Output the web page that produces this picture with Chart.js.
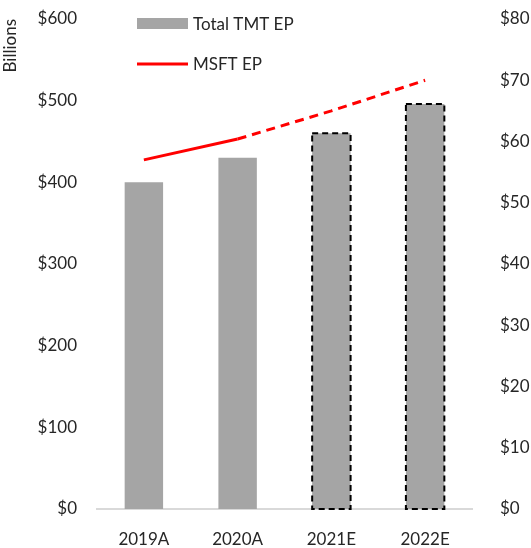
<!DOCTYPE html>
<html>
<head>
<meta charset="utf-8">
<script src="https://cdn.jsdelivr.net/npm/chart.js@4.4.1/dist/chart.umd.min.js"></script>
<style>
  html, body { margin: 0; padding: 0; background: #fff; }
  #wrap { width: 531px; height: 548px; }
</style>
</head>
<body>
<div id="wrap"><canvas id="epChart" width="531" height="548"></canvas></div>
<script>
// data
const categories = ['2019A', '2020A', '2021E', '2022E'];
const tmt_ep = [400, 430, 460, 496];      // left axis, $ billions
const msft_ep = [57, 60.4, 65, 70];       // right axis, $ billions
const is_estimate = [false, false, true, true];
const left_ticks = [0, 100, 200, 300, 400, 500, 600];
const right_ticks = [0, 10, 20, 30, 40, 50, 60, 70, 80];

const FONT = 'Lato, "Open Sans", sans-serif';
const TEXT = '#262626';

// dashed outline around the estimate bars (bar element has no borderDash)
const estimateOutline = {
    id: 'estimateOutline',
    afterDatasetsDraw(chart) {
        const meta = chart.getDatasetMeta(0);
        const ctx = chart.ctx;
        ctx.save();
        ctx.strokeStyle = '#000';
        ctx.lineWidth = 2;
        ctx.setLineDash([6, 4]);
        meta.data.forEach((bar, i) => {
            if (!is_estimate[i]) return;
            const p = bar.getProps(['x', 'y', 'base', 'width'], true);
            ctx.strokeRect(p.x - p.width / 2, p.y, p.width, p.base - p.y);
        });
        ctx.restore();
    }
};

// legend in the top left corner of the plot, like the original
const cornerLegend = {
    id: 'cornerLegend',
    afterDraw(chart) {
        const ctx = chart.ctx;
        const x0 = 137, x1 = 188;
        ctx.save();
        ctx.font = '17px ' + FONT;
        ctx.textBaseline = 'middle';
        // bars
        ctx.fillStyle = chart.data.datasets[0].backgroundColor;
        ctx.fillRect(x0, 18, x1 - x0, 11);
        ctx.fillStyle = TEXT;
        ctx.fillText(chart.data.datasets[0].label, 193, 25);
        // line
        ctx.strokeStyle = chart.data.datasets[1].borderColor;
        ctx.lineWidth = 3;
        ctx.beginPath();
        ctx.moveTo(x0, 64);
        ctx.lineTo(x1, 64);
        ctx.stroke();
        ctx.fillText(chart.data.datasets[1].label, 193, 65);
        ctx.restore();
    }
};

const money = v => '$' + v;
const noEdgePad = s => { s.paddingTop = 0; s.paddingBottom = 0; };

var ctx = document.getElementById('epChart').getContext('2d');
var epChart = new Chart(ctx, {
    type: 'bar',
    data: {
        labels: categories,
        datasets: [
            {
                type: 'bar',
                label: 'Total TMT EP',
                data: tmt_ep,
                backgroundColor: '#A5A5A5',
                categoryPercentage: 1,
                barPercentage: 0.41,
                yAxisID: 'y',
                order: 2
            },
            {
                type: 'line',
                label: 'MSFT EP',
                data: msft_ep,
                borderColor: '#FF0000',
                borderWidth: 3,
                pointRadius: 0,
                tension: 0,
                fill: false,
                yAxisID: 'y1',
                order: 1,
                segment: {
                    borderDash: c => c.p0DataIndex >= 1 ? [9, 6] : undefined
                }
            }
        ]
    },
    options: {
        responsive: false,
        animation: false,
        layout: { padding: { top: 19, left: 0, right: 0, bottom: 0 } },
        plugins: {
            legend: { display: false },
            tooltip: { enabled: false }
        },
        scales: {
            x: {
                grid: { display: false, drawTicks: false },
                border: { display: true, color: '#D9D9D9', width: 2 },
                ticks: { color: TEXT, font: { family: FONT, size: 17 }, padding: 20 },
                afterFit: s => { s.height = 39; s.paddingLeft = 0; s.paddingRight = 0; }
            },
            y: {
                position: 'left',
                min: 0, max: 600,
                afterBuildTicks: s => { s.ticks = left_ticks.map(v => ({ value: v })); },
                grid: { display: false, drawTicks: false },
                border: { display: false },
                ticks: { color: TEXT, font: { family: FONT, size: 17 }, padding: 20, callback: money },
                title: {
                    display: true, text: 'Billions', align: 'end',
                    color: TEXT, font: { family: FONT, size: 17 }, padding: { top: 0, bottom: 0 }
                },
                afterFit: s => { s.width = 97; noEdgePad(s); }
            },
            y1: {
                position: 'right',
                min: 0, max: 80,
                afterBuildTicks: s => { s.ticks = right_ticks.map(v => ({ value: v })); },
                grid: { display: false, drawTicks: false },
                border: { display: false },
                ticks: { color: TEXT, font: { family: FONT, size: 17 }, padding: 28, callback: money },
                afterFit: s => { s.width = 59; noEdgePad(s); }
            }
        }
    },
    plugins: [estimateOutline, cornerLegend]
});
</script>
</body>
</html>
